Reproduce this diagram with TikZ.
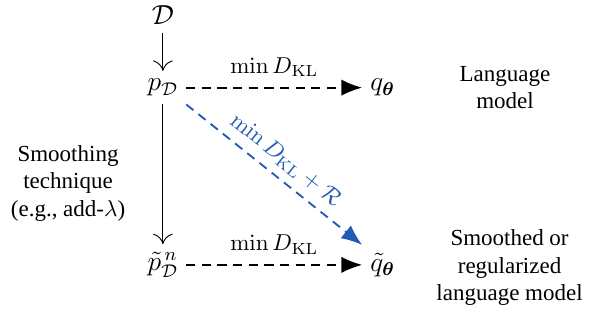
\documentclass[tikz,border=0pt]{standalone}
\usepackage{amsmath,amssymb}
\usepackage[no-math]{fontspec}
\setmainfont{Liberation Serif}
\usetikzlibrary{arrows.meta,positioning}
\definecolor{regblue}{RGB}{32,92,178}

\begin{document}
\begin{tikzpicture}[
  font=\normalsize,
  txt/.style={align=center},
  var/.style={font=\large},
  arr/.style={-{To[length=1.6mm,width=3mm]}},
  fit/.style={-{Latex[length=3.2mm,width=2.5mm]}, dash pattern=on 4pt off 2.8pt, thick}
]
\useasboundingbox (0,0) rectangle (9.05,4.95);
\node[var] (d) at (2.49,4.72) {$\mathcal{D}$};
\node[var] (p) at (2.49,3.61) {$p_{\mathcal{D}}$};
\node[var] (q) at (5.85,3.61) {$q_{\boldsymbol{\theta}}$};
\node[var] (pt) at (2.49,0.90) {$\tilde{p}^{\,n}_{\mathcal{D}}$};
\node[var] (qt) at (5.85,0.90) {$\tilde{q}_{\boldsymbol{\theta}}$};
\node[txt] (smooth) at (1.04,2.15) {Smoothing\\technique\\(e.g., add-$\lambda$)};
\node[txt] (lm) at (7.72,3.61) {Language\\model};
\node[txt] (slm) at (7.79,0.86) {Smoothed or\\regularized\\language model};
\draw[arr] (d) -- (p);
\draw[arr] (p) -- (pt);
\draw[fit] (p) -- node[above=1pt] {$\min D_{\mathrm{KL}}$} (q);
\draw[fit] (pt) -- node[above=1pt] {$\min D_{\mathrm{KL}}$} (qt);
\draw[fit, regblue] (p.south east) -- node[above, sloped] {$\min D_{\mathrm{KL}} + \mathcal{R}$} (qt.north west);
\end{tikzpicture}
\end{document}
